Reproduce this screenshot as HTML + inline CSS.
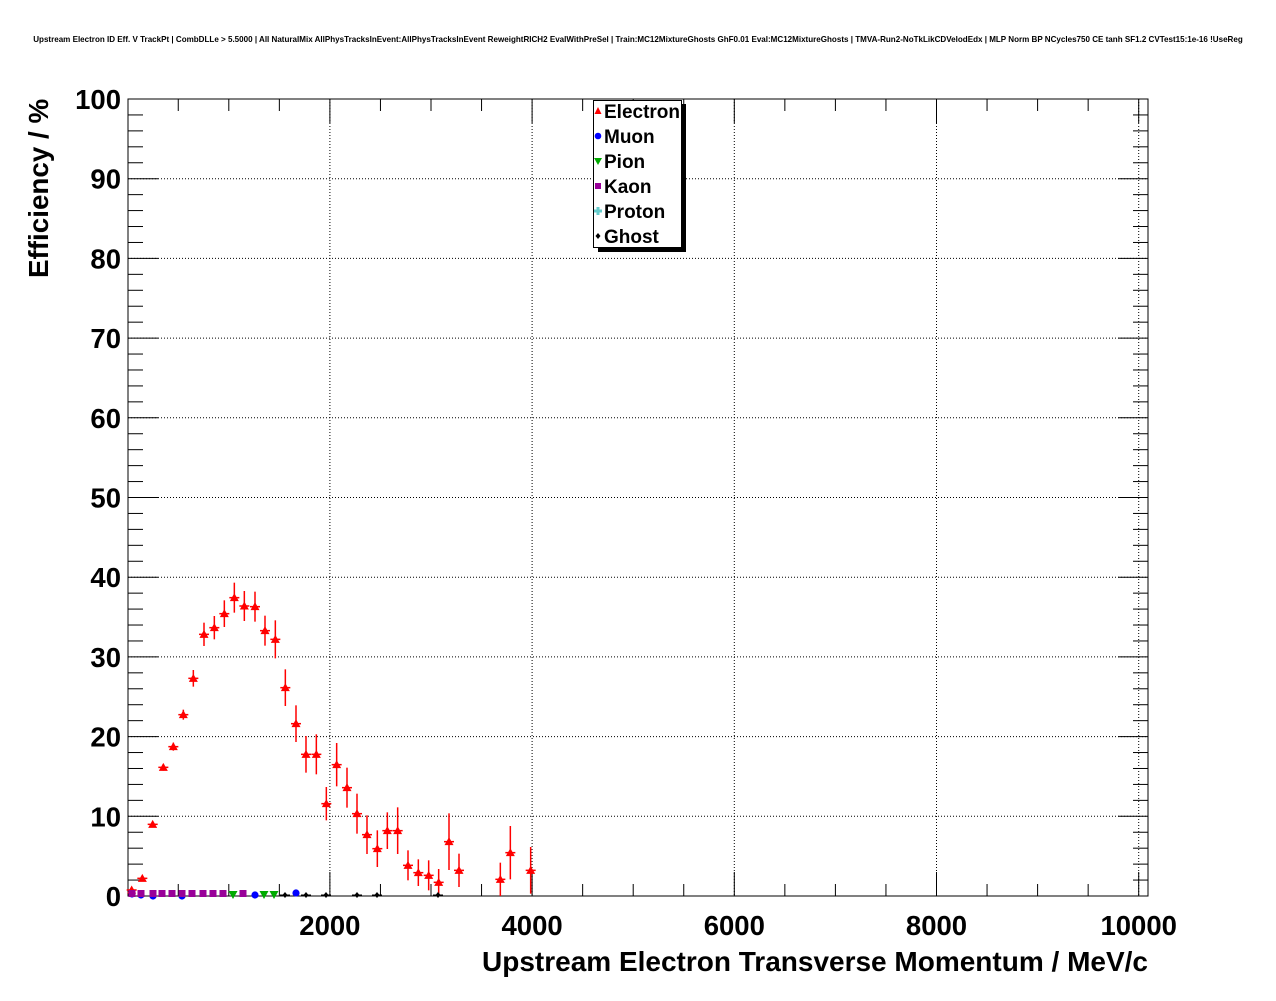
<!DOCTYPE html>
<html><head><meta charset="utf-8"><style>
html,body{margin:0;padding:0;background:#fff;}
svg text{font-family:"Liberation Sans",Arial,sans-serif;font-weight:bold;}
</style></head><body>
<svg id="s" width="1276" height="996" xmlns="http://www.w3.org/2000/svg">
<rect width="1276" height="996" fill="#fff"/>
<text x="638" y="42" font-size="8.05" text-anchor="middle">Upstream Electron ID Eff. V TrackPt | CombDLLe &gt; 5.5000 | All NaturalMix AllPhysTracksInEvent:AllPhysTracksInEvent ReweightRICH2 EvalWithPreSel | Train:MC12MixtureGhosts GhF0.01 Eval:MC12MixtureGhosts | TMVA-Run2-NoTkLikCDVelodEdx | MLP Norm BP NCycles750 CE tanh SF1.2 CVTest15:1e-16 !UseReg</text>
<text transform="translate(48,278) rotate(-90)" font-size="27.8" text-anchor="start">Efficiency / %</text>
<text x="1148" y="971" font-size="28" text-anchor="end">Upstream Electron Transverse Momentum / MeV/c</text>
<g id="g"></g>
</svg>
<script>
var g=document.getElementById('g'),h='';
var L=128,R=1148,T=99,B=896;
function X(v){return 127.7+v*0.1011;}
function Y(v){return B-v*7.97;}
for(var i=1;i<=10;i++){var y=Y(i*10);h+='<line x1="'+L+'" x2="'+R+'" y1="'+y+'" y2="'+y+'" stroke="#000" stroke-dasharray="1,2" stroke-width="1"/>';}
for(var v=2000;v<=10000;v+=2000){var x=X(v);h+='<line x1="'+x+'" x2="'+x+'" y1="'+T+'" y2="'+B+'" stroke="#000" stroke-dasharray="1,2" stroke-width="1"/>';}
for(var i=0;i<=50;i++){var y=Y(i*2),len=(i%5==0)?30:15;
h+='<line x1="'+L+'" x2="'+(L+len)+'" y1="'+y+'" y2="'+y+'" stroke="#000"/>';
h+='<line x1="'+(R-len)+'" x2="'+R+'" y1="'+y+'" y2="'+y+'" stroke="#000"/>';}
for(var i=0;i<=10;i++){h+='<text x="121" y="'+(Y(i*10)+10)+'" font-size="27.5" text-anchor="end">'+(i*10)+'</text>';}
for(var v=500;v<=10000;v+=500){var x=X(v),len=(v%2000==0)?24:12;
h+='<line x1="'+x+'" x2="'+x+'" y1="'+(B-len)+'" y2="'+B+'" stroke="#000"/>';
h+='<line x1="'+x+'" x2="'+x+'" y1="'+T+'" y2="'+(T+len)+'" stroke="#000"/>';}
for(var v=2000;v<=10000;v+=2000){h+='<text x="'+X(v)+'" y="935" font-size="27.5" text-anchor="middle">'+v+'</text>';}
h+='<rect x="'+L+'" y="'+T+'" width="'+(R-L)+'" height="'+(B-T)+'" fill="none" stroke="#000"/>';
var E=[[95,990,8],[127,955,5],[158,793,5],[190,622,10],[220,560,12],[250,464,15],[280,355,25],[312,223,35],[343,203,35],[373,161,40],[403,113,45],[433,138,45],[465,140,45],[495,212,45],[526,238,57],[556,383,55],[588,491,55],[618,583,55],[649,583,60],[679,731,50],[710,614,65],[741,683,60],[771,761,60],[801,824,58],[832,866,55],[862,812,55],[893,812,70],[924,916,45],[955,938,40],[986,946,45],[1016,967,40],[1047,845,85],[1077,931,50],[1201,958,50],[1231,878,80],[1292,931,70]];
E.forEach(function(p){var x=100+p[0]/3,y=560+p[1]/3,e=p[2]/3;
var yb=Math.min(y+e,B);
h+='<line x1="'+x+'" x2="'+x+'" y1="'+(y-e)+'" y2="'+yb+'" stroke="red" stroke-width="1.5"/>';
h+='<line x1="'+(x-5)+'" x2="'+(x+5)+'" y1="'+y+'" y2="'+y+'" stroke="red" stroke-width="1.5"/>';
h+='<polygon points="'+x+','+(y-4.5)+' '+(x-4.5)+','+(y+3.5)+' '+(x+4.5)+','+(y+3.5)+'" fill="red"/>';});
var by=B-1;
[[132,894],[141,895],[153,896],[182,896],[255,895],[296,893]].forEach(function(p){h+='<circle cx="'+p[0]+'" cy="'+p[1]+'" r="3.6" fill="#00f"/>';});
[132,141,153,162,172,182,192,203,213,223,243].forEach(function(x){h+='<rect x="'+(x-3.5)+'" y="'+(by-5)+'" width="7" height="7" fill="#909"/>';});
[233,264,274].forEach(function(x){h+='<polygon points="'+(x-4.5)+','+(by-4)+' '+(x+4.5)+','+(by-4)+' '+x+','+(by+4)+'" fill="#0a0"/>';});
[285,306,326,357,377,438].forEach(function(x){h+='<polygon points="'+x+','+(by-3)+' '+(x+2.5)+','+by+' '+x+','+(by+3)+' '+(x-2.5)+','+by+'" fill="#000"/><line x1="'+(x-5)+'" x2="'+(x+5)+'" y1="'+by+'" y2="'+by+'" stroke="#000"/>';});
h+='<rect x="598" y="104" width="88" height="148" fill="#000"/>';
h+='<rect x="593.5" y="100.5" width="88" height="147" fill="#fff" stroke="#000"/>';
var names=['Electron','Muon','Pion','Kaon','Proton','Ghost'];
names.forEach(function(n,i){var y=111+i*25,mx=598;
h+='<text x="604" y="'+(y+7)+'" font-size="19">'+n+'</text>';
if(i==0)h+='<polygon points="'+mx+','+(y-4)+' '+(mx-3.5)+','+(y+3)+' '+(mx+3.5)+','+(y+3)+'" fill="red"/>';
if(i==1)h+='<circle cx="'+mx+'" cy="'+y+'" r="3.3" fill="#00f"/>';
if(i==2)h+='<polygon points="'+(mx-4)+','+(y-3)+' '+(mx+4)+','+(y-3)+' '+mx+','+(y+4)+'" fill="#0a0"/>';
if(i==3)h+='<rect x="'+(mx-3)+'" y="'+(y-3)+'" width="6" height="6" fill="#909"/>';
if(i==4)h+='<path d="M'+(mx-4)+' '+y+'h8M'+mx+' '+(y-4)+'v8" stroke="#6cc" stroke-width="3"/>';
if(i==5)h+='<polygon points="'+mx+','+(y-3)+' '+(mx+2.5)+','+y+' '+mx+','+(y+3)+' '+(mx-2.5)+','+y+'" fill="#000"/>';});
g.innerHTML=h;
</script>
</body></html>
